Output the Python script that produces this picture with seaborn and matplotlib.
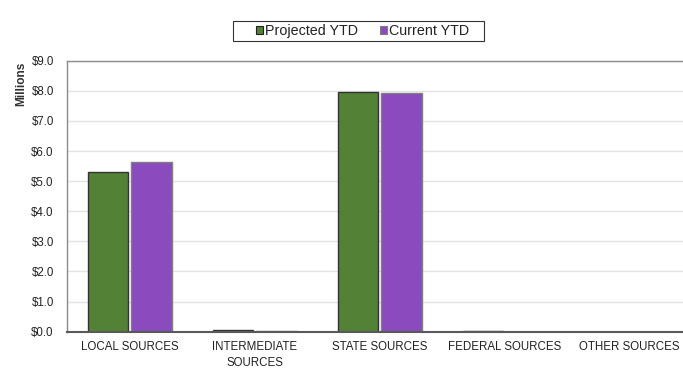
import matplotlib
matplotlib.use("Agg")
import matplotlib.pyplot as plt
import seaborn as sns
import pandas as pd
from matplotlib.ticker import FuncFormatter, MultipleLocator
from matplotlib.patches import Patch, Rectangle

categories = ["LOCAL SOURCES", "INTERMEDIATE\nSOURCES", "STATE SOURCES", "FEDERAL SOURCES", "OTHER SOURCES"]
projected_ytd = [5.29, 0.05, 7.95, 0.03, 0.0]
current_ytd = [5.62, 0.02, 7.92, 0.0, 0.0]
series_names = ["Projected YTD", "Current YTD"]
colors = ["#538135", "#8A4BBF"]
edges = ["#333333", "#7F7F7F"]

df = pd.DataFrame({
    "category": categories * 2,
    "value": projected_ytd + current_ytd,
    "series": [series_names[0]] * len(categories) + [series_names[1]] * len(categories),
})

sns.set_theme(style="white")
plt.rcParams['font.family'] = ['Liberation Sans', 'DejaVu Sans']

fig = plt.figure(figsize=(6.83, 3.85), dpi=100)
ax = fig.add_axes([67 / 683, 1 - 331.7 / 385, 625 / 683, (331.7 - 60.7) / 385])

sns.barplot(data=df, x="category", y="value", hue="series", order=categories,
            hue_order=series_names, palette=colors, width=0.7, gap=0.08,
            ax=ax, legend=False, saturation=1)

for i, cont in enumerate(ax.containers):
    for bar in cont:
        bar.set_edgecolor(edges[i])
        bar.set_linewidth(1.0)

ax.set_xlim(-0.5, 4.5)
ax.set_ylim(0, 9)
ax.yaxis.set_major_locator(MultipleLocator(1))
ax.yaxis.set_major_formatter(FuncFormatter(lambda v, p: f"${v:.1f}"))
ax.grid(axis="y", color="#E3E3E3", linewidth=1.0)
ax.set_axisbelow(True)
ax.set_xlabel("")
ax.set_ylabel("")
ax.tick_params(axis="both", labelsize=8.3, colors="#222222", length=0)
ax.tick_params(axis="x", pad=6.5)
ax.tick_params(axis="y", pad=9.5)
for lbl in ax.get_xticklabels():
    lbl.set_linespacing(1.45)

for side in ["left", "top", "bottom"]:
    ax.spines[side].set_color("#8C8C8C")
    ax.spines[side].set_linewidth(1.0)
ax.spines["bottom"].set_color("#595959")
ax.spines["bottom"].set_linewidth(1.5)
ax.spines["right"].set_visible(False)

fig.text(21 / 683, 1 - 84 / 385, "Millions", rotation=90, fontsize=8.6,
         fontweight="bold", ha="center", va="center", color="#333333")

# legend frame drawn manually for wider horizontal padding
fig.patches.append(Rectangle((233 / 683, 1 - 41 / 385), (484 - 233) / 683, 20 / 385,
                             transform=fig.transFigure, facecolor="white",
                             edgecolor="#333333", linewidth=0.8, zorder=1))
handles = [Patch(facecolor=colors[i], edgecolor="#222222" if i == 0 else "#7F7F7F",
                 linewidth=0.8, label=series_names[i]) for i in range(2)]
leg = fig.legend(handles=handles, loc="center", bbox_to_anchor=(362.5 / 683, 1 - 31 / 385),
                 ncol=2, frameon=False, fontsize=10.3, handlelength=0.5, handleheight=0.5,
                 handletextpad=0.15, columnspacing=1.55, borderpad=0.2)
leg.set_zorder(2)
for t in leg.get_texts():
    t.set_color("#222222")

fig.savefig("out.png", dpi=100)
